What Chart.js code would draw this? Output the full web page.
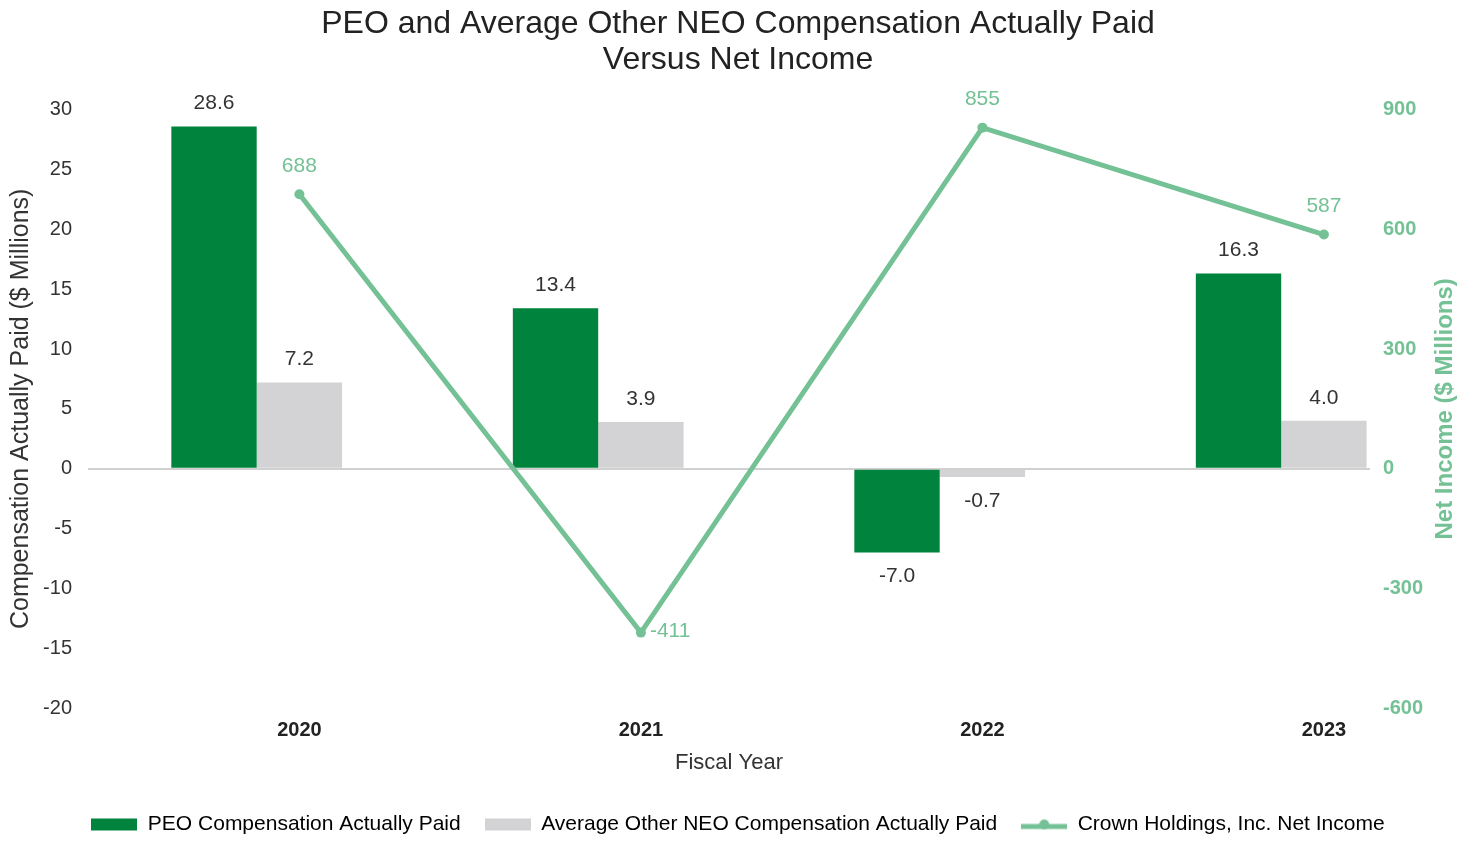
<!DOCTYPE html>
<html>
<head>
<meta charset="utf-8">
<script src="https://cdn.jsdelivr.net/npm/chart.js@4.4.1/dist/chart.umd.min.js"></script>
<style>
  html, body { margin: 0; padding: 0; background: #fff; }
  #wrap { width: 1476px; height: 842px; }
</style>
</head>
<body>
<div id="wrap"><canvas id="chart" width="1476" height="842"></canvas></div>
<script>
var years = ["2020", "2021", "2022", "2023"];
var peoPaid = [28.6, 13.4, -7.0, 16.3];
var neoPaid = [7.2, 3.9, -0.7, 4.0];
var netIncome = [688, -411, 855, 587];

var GREEN = "#00843d";
var GRAY = "#d3d3d5";
var LINE = "#74c195";
var FONT = "'Liberation Sans', Arial, sans-serif";

// bars sit on x = 0,1,2,3 ; the line + year labels sit on the gray bar centre
var SHIFT = 0.125;

function swatch(kind, color) {
  var c = document.createElement("canvas");
  c.width = 46;
  c.height = 14;
  var g = c.getContext("2d");
  if (kind === "rect") {
    g.fillStyle = color;
    g.fillRect(0, 1, 46, 12);
  } else {
    g.strokeStyle = color;
    g.lineWidth = 5;
    g.beginPath();
    g.moveTo(0, 9);
    g.lineTo(46, 9);
    g.stroke();
    g.fillStyle = color;
    g.beginPath();
    g.arc(23, 7, 5, 0, Math.PI * 2);
    g.fill();
  }
  return c;
}

var valueLabels = {
  id: "valueLabels",
  afterDatasetsDraw: function (chart) {
    var ctx = chart.ctx;
    ctx.save();
    ctx.font = "21px " + FONT;
    ctx.textAlign = "center";
    ctx.textBaseline = "middle";
    chart.data.datasets.forEach(function (ds, di) {
      var meta = chart.getDatasetMeta(di);
      meta.data.forEach(function (el, i) {
        var v = ds.data[i].y;
        if (ds.type === "line") {
          ctx.fillStyle = LINE;
          if (v < 0) {
            ctx.textAlign = "left";
            ctx.fillText(String(v), el.x + 9, el.y - 1);
            ctx.textAlign = "center";
          } else {
            ctx.fillText(String(v), el.x, el.y - 28);
          }
        } else {
          ctx.fillStyle = "#333";
          var txt = v.toFixed(1);
          if (v < 0) {
            ctx.fillText(txt, el.x, el.y + 24);
          } else {
            ctx.fillText(txt, el.x, el.y - 23);
          }
        }
      });
    });
    ctx.restore();
  }
};

var rightTitle = {
  id: "rightTitle",
  afterDraw: function (chart) {
    var ctx = chart.ctx;
    var a = chart.chartArea;
    ctx.save();
    ctx.translate(1445, (a.top + a.bottom) / 2);
    ctx.rotate(-Math.PI / 2);
    ctx.font = "bold 24px " + FONT;
    ctx.fillStyle = LINE;
    ctx.textAlign = "center";
    ctx.textBaseline = "middle";
    ctx.fillText("Net Income ($ Millions)", 0, 0);
    ctx.restore();
  }
};

var ctx = document.getElementById("chart");
var myChart = new Chart(ctx, {
  type: "bar",
  data: {
    datasets: [
      {
        label: "PEO Compensation Actually Paid",
        data: peoPaid.map(function (v, i) { return { x: i, y: v }; }),
        backgroundColor: GREEN,
        categoryPercentage: 0.5,
        barPercentage: 1.0,
        yAxisID: "y",
        order: 2
      },
      {
        label: "Average Other NEO Compensation Actually Paid",
        data: neoPaid.map(function (v, i) { return { x: i, y: v }; }),
        backgroundColor: GRAY,
        categoryPercentage: 0.5,
        barPercentage: 1.0,
        yAxisID: "y",
        order: 3
      },
      {
        type: "line",
        label: "Crown Holdings, Inc. Net Income",
        data: netIncome.map(function (v, i) { return { x: i + SHIFT, y: v }; }),
        borderColor: LINE,
        backgroundColor: LINE,
        borderWidth: 5,
        pointRadius: 5,
        pointBackgroundColor: LINE,
        pointBorderWidth: 0,
        tension: 0,
        yAxisID: "y1",
        order: 1
      }
    ]
  },
  options: {
    responsive: false,
    animation: false,
    layout: { padding: { top: 0, left: 0, right: 0, bottom: -3 } },
    scales: {
      x: {
        type: "linear",
        offset: false,
        min: -0.494,
        max: 3.26,
        grid: { display: false, drawTicks: false },
        border: { display: false },
        afterBuildTicks: function (axis) {
          axis.ticks = years.map(function (y, i) { return { value: i + SHIFT }; });
        },
        ticks: {
          padding: 10,
          color: "#222",
          font: { family: FONT, size: 20, weight: "bold" },
          callback: function (v) { return years[Math.round(v - SHIFT)]; }
        },
        title: {
          display: true,
          text: "Fiscal Year",
          color: "#333",
          font: { family: FONT, size: 22, lineHeight: 1.0 },
          padding: { top: 0, bottom: 16 }
        }
      },
      y: {
        position: "left",
        min: -20,
        max: 30,
        afterFit: function (scale) { scale.width = 88; },
        ticks: {
          stepSize: 5,
          padding: 16,
          color: "#333",
          font: { family: FONT, size: 20 }
        },
        grid: {
          drawTicks: false,
          lineWidth: 2,
          color: function (c) { return c.tick && c.tick.value === 0 ? "#d0d0d0" : "rgba(0,0,0,0)"; }
        },
        border: { display: false },
        title: {
          display: true,
          text: "Compensation Actually Paid ($ Millions)",
          color: "#333",
          font: { family: FONT, size: 25, lineHeight: 1.0 },
          padding: { top: 9, bottom: 0 }
        }
      },
      y1: {
        position: "right",
        min: -600,
        max: 900,
        afterFit: function (scale) { scale.width = 106; },
        ticks: {
          stepSize: 300,
          padding: 13,
          color: LINE,
          font: { family: FONT, size: 20, weight: "bold" }
        },
        grid: { display: false, drawTicks: false },
        border: { display: false }
      }
    },
    plugins: {
      title: {
        display: true,
        text: ["PEO and Average Other NEO Compensation Actually Paid", "Versus Net Income"],
        color: "#222",
        font: { family: FONT, size: 32, weight: "normal", lineHeight: 1.12 },
        padding: { top: 6, bottom: 32 }
      },
      legend: {
        position: "bottom",
        labels: {
          usePointStyle: true,
          pointStyleWidth: 46,
          boxHeight: 14,
          padding: 24,
          color: "#333",
          font: { family: FONT, size: 21 },
          generateLabels: function (chart) {
            var kinds = ["rect", "rect", "line"];
            var cols = [GREEN, GRAY, LINE];
            return chart.data.datasets.map(function (ds, i) {
              return {
                text: ds.label,
                pointStyle: swatch(kinds[i], cols[i]),
                fillStyle: cols[i],
                strokeStyle: cols[i],
                lineWidth: 0,
                datasetIndex: i,
                hidden: false
              };
            });
          }
        }
      },
      tooltip: { enabled: false }
    }
  },
  plugins: [valueLabels, rightTitle]
});
</script>
</body>
</html>
